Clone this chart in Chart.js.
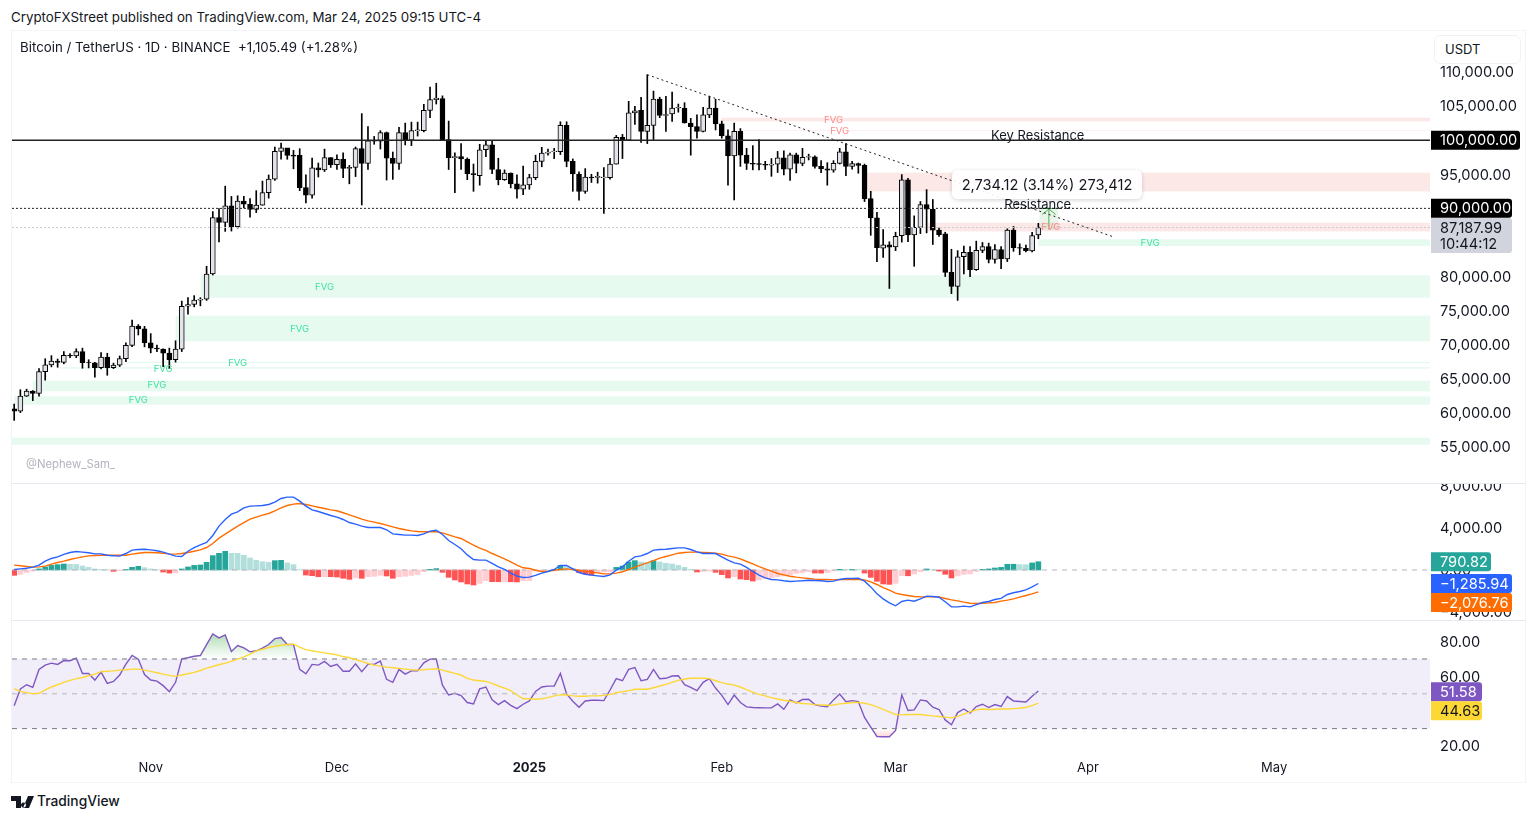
<!DOCTYPE html>
<html>
<head>
<meta charset="utf-8">
<title>BTCUSDT 1D</title>
<script src="https://cdn.jsdelivr.net/npm/chart.js@4"></script>
<style>
  html, body { margin: 0; background: #fff; width: 1536px; height: 821px; overflow: hidden; font-family: Inter, sans-serif; color: #131722; }
  canvas { position: absolute; left: 0; }
  .abs { position: absolute; white-space: nowrap; }
  .rule { position: absolute; left: 11px; width: 1514px; height: 1px; background: #e6e8ef; }
</style>
</head>
<body>
<div class="abs" style="left:11px;top:30px;width:1513px;height:751px;border:1px solid #f3f4f7"></div>
<div class="rule" style="top:483px"></div>
<div class="rule" style="top:620px"></div>

<canvas id="priceChart" width="1536" height="453" style="top:30px"></canvas>
<canvas id="macdChart" width="1536" height="136" style="top:484px"></canvas>
<canvas id="rsiChart" width="1536" height="162" style="top:620px"></canvas>

<div class="abs" style="left:11px;top:9px;font-size:13.3px">CryptoFXStreet published on TradingView.com, Mar 24, 2025 09:15 UTC-4</div>
<div class="abs" style="left:20px;top:39px;font-size:13.3px">Bitcoin / TetherUS · 1D · BINANCE &nbsp;+1,105.49 (+1.28%)</div>
<div class="abs" style="left:26px;top:457px;font-size:11.3px;color:#b2b5be">@Nephew_Sam_</div>
<div class="abs" style="left:1434px;top:35px;width:85px;height:27px;line-height:27px;border:1px solid #f0f1f5;border-radius:6px;background:#fff;font-size:13px;text-indent:10px">USDT</div>
<div class="abs" style="left:952px;top:170px;width:190px;height:29px;line-height:30px;border-radius:6px;background:rgba(255,255,255,.9);box-shadow:0 1px 4px rgba(0,0,0,.18);font-size:14.6px;text-align:center">2,734.12 (3.14%) 273,412</div>
<svg class="abs" style="left:11px;top:796px" width="24" height="12" viewBox="0 0 24 12"><path d="M0 0h10v12H5V5H0zM10 9a2.5 2.5 0 1 0 0-.01zM17 0h6l-5 12h-6z" fill="#131722"/></svg>
<div class="abs" style="left:37px;top:793px;font-size:13.8px;font-weight:500">TradingView</div>

<script>
// index 0 = Oct 10 2024, one candle per day up to Mar 24 2025
const candleOpen = [
  60580,60270,62450,63190,62850,66050,67040,67610,67400,68430,
  68360,69000,67370,67360,66650,68170,66630,67010,67970,69900,
  72730,72330,70290,69500,69370,68770,67800,69360,75640,75900,
  76540,76680,80370,88650,87950,90370,87320,91050,90600,89850,
  90470,92320,94290,98350,98890,97800,97770,93030,91950,95950,
  95640,97460,96400,97200,95850,96000,98770,96600,99920,99870,
  101100,97370,96600,101120,100000,101400,101400,104370,105950,106100,
  100070,97440,97600,97240,95100,94800,98600,99300,95700,94200,
  95190,93600,92800,93450,94500,96900,98100,98300,98300,102170,
  96900,95040,92500,94600,94550,94500,94500,96500,100400,100000,
  104000,104370,101300,102170,106040,103640,103840,104720,104700,102520,
  102000,101300,103700,104700,102400,100650,97700,101300,97800,96600,
  96550,96450,96350,96500,97400,95750,97850,96600,97500,97550,
  96150,95800,95600,96600,98300,96150,96550,96300,91420,88600,
  84150,84650,84350,86000,94200,86100,87200,90550,89900,86800,
  86280,80610,78560,82900,83550,81000,83850,84400,82500,83950,
  82600,86800,84250,84150,83750,86100
];
const candleHigh = [
  61300,63400,63480,63280,66500,67950,68400,67900,69000,68700,
  69400,69500,67800,67400,68850,68750,67300,68350,70270,73620,
  72960,72700,71630,69950,69400,69500,70580,76400,76900,77200,
  76900,81500,89530,89950,93260,91750,91850,91780,91440,92600,
  94000,94900,98970,99590,98780,98500,98750,94900,97360,96650,
  98690,97450,97840,98150,96300,99000,103900,102000,100550,101400,
  101200,98270,101900,102500,102650,102650,105250,107800,108350,106500,
  102800,98150,99500,97400,96500,99400,99950,99900,97350,95650,
  95200,94900,96200,95000,97800,98950,98700,98800,102700,102700,
  97250,95350,95830,95000,95300,95970,97350,100700,100850,105700,
  104950,106300,109600,107200,106300,106420,107070,105300,105500,103200,
  103700,104800,106450,106000,102800,101500,102500,101700,98800,99200,
  100100,96900,97300,98350,98450,98100,98100,98800,97950,97700,
  97000,96700,97000,98800,99500,96900,96650,96500,92500,89400,
  86900,85100,86500,94950,94400,88900,91000,92750,91300,87100,
  86500,84000,83800,84450,84400,85200,85000,84900,84700,84400,
  87000,87350,84800,84600,86500,87800
];
const candleLow = [
  58900,60050,62400,61800,62450,64800,66750,66700,67200,68100,
  68100,66550,66600,65250,66450,65520,66500,66800,67500,69730,
  71430,69680,68800,69000,66800,66500,67450,69000,74500,75560,
  75700,76500,80220,85070,86620,86670,87100,90050,88700,89380,
  90450,91500,94100,97200,97200,95800,92600,90800,91500,94600,
  95400,96000,95700,94500,93600,94660,90500,95700,99400,98700,
  94150,94250,95700,99300,99200,100600,101200,103300,105300,100000,
  95700,92300,95700,94200,92500,93400,97600,95100,93450,94100,
  93000,91500,92000,92800,94200,96100,97800,97300,97900,96100,
  92500,91200,92200,93800,93700,89250,94300,96500,97300,99950,
  102300,99680,99500,100100,103300,101290,102750,104100,102500,97800,
  100300,101200,103300,101500,100300,93400,91230,96150,95700,95650,
  95650,95700,94700,95250,94900,94100,95200,96250,97100,95900,
  95250,93400,95300,96500,94800,95750,95150,91000,86050,82200,
  82800,78250,83800,85050,85100,81500,86300,86400,84700,85900,
  80000,77500,76500,80400,80000,80900,83500,82000,81950,81150,
  82200,83700,83200,83600,83600,85550
];
const candleClose = [
  60270,62450,63190,62850,66050,67040,67610,67400,68430,68360,
  69000,67370,67360,66650,68170,66630,67010,67970,69900,72730,
  72330,70290,69500,69370,68770,67800,69360,75640,75900,76540,
  76680,80370,88650,87950,90370,87320,91050,90600,89850,90470,
  92320,94290,98350,98890,97780,97650,93030,91950,95950,95640,
  97460,96400,97200,95850,96000,98770,96600,99920,99870,101100,
  97370,96600,101120,100000,101400,101500,104370,105950,106180,100070,
  97440,97600,97240,95100,94950,98600,99300,95700,94200,95190,
  93600,92800,93450,94500,96900,98100,98250,98400,102170,96900,
  95040,92500,94600,94450,94700,94600,96500,100400,100000,104000,
  104300,101300,102170,106040,103640,103750,104720,104800,102520,102000,
  101300,103700,104700,102400,100650,97700,101300,97800,96600,96500,
  96450,96350,96500,97400,95750,97850,96600,97500,97600,96150,
  95800,95600,96600,98300,96150,96550,96300,91420,88600,84250,
  84650,84300,85900,94200,86100,87200,90550,89900,86800,86150,
  80610,78560,82900,83550,81000,83850,84400,82500,83950,82600,
  86800,84250,84150,83800,86000,87188
];

const macdLine = [
  50,110,170,270,460,840,1100,1250,1480,1670,
  1760,1700,1640,1540,1540,1410,1350,1320,1570,1890,
  1950,1980,1920,1830,1700,1510,1320,1290,1790,2140,
  2400,2620,3290,4180,4810,5320,5540,5920,6080,6110,
  6140,6240,6460,6810,6940,6940,6560,6080,5730,5570,
  5380,5190,5030,4810,4520,4370,4180,4050,4050,4050,
  3830,3440,3380,3320,3320,3290,3440,3700,3790,3380,
  2810,2430,2020,1440,1000,940,940,620,300,50,
  -300,-590,-710,-680,-520,-300,-140,50,430,430,
  110,-240,-400,-490,-560,-620,-460,-20,300,840,
  1250,1350,1570,1890,1950,1980,2050,2110,2110,1950,
  1730,1570,1570,1570,1250,940,680,560,240,-140,
  -490,-750,-900,-940,-1030,-1100,-1060,-1030,-970,-1000,
  -1030,-1100,-1060,-900,-810,-810,-780,-1060,-1610,-2270,
  -2750,-3130,-3410,-3000,-2870,-2970,-2750,-2490,-2520,-2590,
  -3030,-3510,-3510,-3440,-3510,-3290,-3100,-3000,-2810,-2710,
  -2330,-2170,-2050,-1890,-1610,-1286
];
const macdSignal = [
  460,400,330,270,300,370,560,710,840,1000,
  1130,1250,1350,1380,1410,1410,1410,1410,1410,1510,
  1600,1670,1670,1640,1600,1540,1510,1570,1670,1790,
  1920,2140,2520,3030,3410,3790,4180,4520,4840,5030,
  5220,5380,5640,5920,6140,6270,6330,6240,6110,5980,
  5860,5730,5640,5450,5250,5060,4840,4680,4560,4430,
  4270,4110,3950,3830,3730,3670,3640,3640,3640,3540,
  3350,3160,3000,2680,2370,2080,1860,1570,1320,1060,
  780,460,210,140,-20,-140,-110,-20,50,110,
  50,-20,-110,-210,-270,-370,-370,-300,-170,50,
  270,490,680,900,1130,1290,1440,1600,1670,1700,
  1700,1670,1640,1600,1510,1350,1220,1060,810,590,
  330,110,-110,-330,-460,-590,-680,-750,-810,-870,
  -900,-900,-940,-900,-900,-900,-900,-940,-1130,-1380,
  -1670,-1920,-2210,-2330,-2430,-2520,-2560,-2560,-2560,-2560,
  -2710,-2840,-2940,-3060,-3160,-3190,-3160,-3130,-3100,-2970,
  -2870,-2750,-2590,-2430,-2270,-2077
];
const macdHist = [
  -510,-410,-250,-100,100,290,440,510,570,540,
  530,380,250,100,60,30,-130,-60,60,250,
  350,220,100,30,-190,-290,-280,100,290,440,
  480,730,1370,1590,1780,1590,1580,1400,1140,920,
  790,730,890,920,670,510,30,-480,-540,-640,
  -630,-640,-670,-790,-890,-760,-790,-640,-600,-510,
  -570,-790,-640,-600,-510,-410,-160,60,130,-220,
  -700,-950,-1140,-1330,-1430,-1270,-1020,-1110,-1120,-1110,
  -1120,-1140,-1020,-1010,-100,-60,-30,60,440,320,
  160,-250,-380,-480,-250,-190,-160,250,380,760,
  890,760,700,890,760,640,570,440,250,60,
  -190,-130,-100,-220,-440,-760,-640,-860,-920,-1050,
  -950,-830,-760,-640,-570,-480,-320,-250,-160,-290,
  -300,-250,-100,60,30,60,30,-290,-700,-1080,
  -1330,-1370,-1270,-540,-550,-380,-160,100,30,-100,
  -410,-760,-570,-410,-380,-130,60,100,190,250,
  540,550,510,500,670,791
];

const rsiLine = [
  43.2,52.8,55.2,53.7,64.0,66.5,67.6,66.9,69.1,69.0,
  70.5,61.7,61.7,57.9,62.5,56.0,57.1,60.8,67.0,72.0,
  69.9,61.1,57.9,57.3,54.7,51.2,56.6,70.1,70.7,71.6,
  72.0,78.3,84.4,82.1,83.8,74.3,77.7,76.4,74.1,74.7,
  76.2,78.3,81.7,82.3,78.3,78.3,64.0,61.5,66.9,66.5,
  68.6,65.7,66.9,63.0,63.0,67.2,62.7,66.9,66.9,68.8,
  58.3,56.6,64.0,61.3,63.2,63.2,67.8,69.9,69.9,55.0,
  49.3,50.3,49.0,45.0,44.2,52.8,53.9,46.5,43.8,46.1,
  43.4,41.5,44.0,45.9,51.4,53.9,54.4,54.5,61.7,49.9,
  45.7,42.3,45.9,46.3,46.3,46.1,52.2,58.7,57.5,64.0,
  65.1,57.5,58.3,64.0,58.7,58.9,60.2,60.4,55.2,53.7,
  51.8,56.6,58.7,53.3,49.1,43.8,49.3,45.0,42.5,42.1,
  42.0,41.9,41.9,44.2,41.1,46.5,44.8,46.7,46.9,43.8,
  42.9,42.5,46.5,49.9,45.5,46.1,45.5,36.4,30.9,25.5,
  25.3,25.3,29.0,49.3,40.4,40.8,46.5,45.9,42.3,41.0,
  35.0,32.2,39.2,41.3,38.9,42.7,44.0,42.1,43.8,42.7,
  48.4,45.9,45.6,45.3,48.6,51.58
];
const rsiAverage = [
  53.0,51.4,50.7,50.1,50.3,52.2,53.9,55.2,56.6,57.7,
  58.7,59.4,60.4,61.3,62.7,63.0,63.2,63.6,63.8,64.2,
  64.2,63.6,62.9,62.1,61.3,60.6,60.0,60.8,61.5,62.3,
  63.4,64.8,65.7,66.7,67.6,68.6,69.9,71.2,72.8,74.7,
  75.6,76.6,77.3,77.9,78.3,78.5,76.8,75.4,74.7,74.1,
  73.5,73.0,72.4,71.4,70.7,69.7,68.6,67.4,66.5,65.9,
  65.3,65.0,64.6,64.2,63.8,63.6,63.8,64.2,64.4,63.6,
  62.7,61.7,60.8,58.9,57.9,57.5,57.1,56.0,54.5,53.3,
  51.8,49.3,47.2,47.2,46.9,47.2,47.8,48.8,49.5,49.3,
  48.8,48.6,48.6,48.8,48.8,49.1,49.7,50.7,51.2,51.8,
  52.6,52.6,52.6,53.5,54.5,55.4,56.6,57.7,58.5,58.9,
  58.9,58.9,58.7,57.5,56.4,55.6,55.0,53.9,52.4,51.0,
  49.7,48.8,47.8,47.0,46.3,45.7,45.0,44.4,44.2,43.8,
  43.6,43.4,43.6,44.2,44.6,45.0,45.1,44.6,43.8,42.5,
  41.1,39.6,38.1,37.9,38.1,38.1,38.1,37.7,37.3,37.0,
  36.6,36.2,37.0,38.3,39.6,40.8,41.3,41.0,41.1,41.3,
  41.3,41.5,41.7,42.3,43.2,44.63
];

// date ticks, as candle indexes
const monthIndex = [22, 52, 83, 114, 142, 173, 203];
const monthLabel = ['Nov', 'Dec', '2025', 'Feb', 'Mar', 'Apr', 'May'];
const priceTicks = [110000,105000,100000,95000,90000,85000,80000,75000,70000,65000,60000,55000];
const macdTicks = [8000, 4000, 0, -4000];
const rsiTicks = [80, 60, 40, 20];

// [first candle, top price, bottom price], all run out to the right edge
const greenZones = [
  [30,80170,76890],[26,74260,70500],[18,67510,67290],[7,66710,66490],
  [3,64730,63160],[0,62430,61200],[-3,56370,55340],[165,85450,84480]
];
const redZones = [
  [114,103300,102760],[117,101500,101400],[137,95230,92490],[147,87900,86620]
];
// [candle, price]
const greenFvg = [[50,78514],[46,72353],[36,67366],[24,66486],[23,64000],[20,61800],[183,84966]];
const redFvg = [[132,103007],[133,101393],[156,93767],[167,87313]];
const trendX = [102, 177];
const trendY = [109600, 85850];

// x runs in candle indexes, a little over 6.2px a day, from px 12 to px 1430
const xMin = -0.35, xMax = 228.1;
const AXIS_W = 106;
const FONT = 'Inter, sans-serif';
const AXIS_SIZE = 14.6;

function money(v) {
  return v.toLocaleString('en-US', { minimumFractionDigits: 2, maximumFractionDigits: 2 }).replace('-', '\u2212');
}
function series(values) {
  return values.map((y, i) => ({ x: i, y }));
}
function level(value, color, width, dash) {
  return {
    type: 'line', order: 0, data: [{ x: xMin, y: value }, { x: xMax, y: value }],
    borderColor: color, borderWidth: width, borderDash: dash || [], pointRadius: 0
  };
}
function stroke(points, color, width, dash) {
  return {
    type: 'line', order: 0, data: points,
    borderColor: color, borderWidth: width, borderDash: dash || [], pointRadius: 0
  };
}

// zones go under the datasets, notes and price tags on top of everything
function overlay(cfg) {
  return {
    id: 'overlay',
    beforeDatasetsDraw(chart) {
      const { ctx, chartArea, scales: { x, y } } = chart;
      ctx.save();
      (cfg.zones || []).forEach(([rows, color]) => {
        ctx.fillStyle = color;
        rows.forEach(([start, top, bottom, end]) => {
          const x0 = Math.max(x.getPixelForValue(start), chartArea.left);
          const x1 = end === undefined ? chartArea.right : x.getPixelForValue(end);
          ctx.fillRect(x0, y.getPixelForValue(top), x1 - x0, y.getPixelForValue(bottom) - y.getPixelForValue(top));
        });
      });
      ctx.restore();
    },
    afterDraw(chart) {
      const { ctx, chartArea, scales: { x, y } } = chart;
      ctx.save();
      ctx.textBaseline = 'middle';
      (cfg.notes || []).forEach(([rows, color, font, text]) => {
        ctx.fillStyle = color;
        ctx.font = font;
        ctx.textAlign = 'center';
        rows.forEach(([i, p, t]) => ctx.fillText(t || text, x.getPixelForValue(i), y.getPixelForValue(p)));
      });
      ctx.font = AXIS_SIZE + 'px ' + FONT;
      ctx.textAlign = 'left';
      (cfg.tags || []).forEach(t => {
        const mid = y.getPixelForValue(t.value) + (t.shift || 0);
        const h = 19 + (t.lines.length - 1) * 16;
        ctx.fillStyle = t.bg;
        ctx.beginPath();
        ctx.roundRect(chartArea.right + 1, mid - 9.5, t.width, h, [0, 3, 3, 0]);
        ctx.fill();
        ctx.fillStyle = t.fg;
        t.lines.forEach((l, n) => ctx.fillText(l, chartArea.right + 10, mid + 0.7 + n * 16));
      });
      ctx.restore();
    }
  };
}

function paneOptions(yMin, yMax, ticks, showDates) {
  return {
    responsive: false,
    animation: false,
    layout: { padding: { left: 12, right: 0, top: 0, bottom: 0 } },
    plugins: { legend: { display: false }, tooltip: { enabled: false } },
    events: [],
    scales: {
      x: {
        type: 'linear', offset: false, min: xMin, max: xMax, display: showDates,
        grid: { display: false, drawTicks: false }, border: { display: false },
        afterBuildTicks(s) { s.ticks = monthIndex.map(value => ({ value })); },
        afterFit(s) { s.height = showDates ? 30 : 0; s.paddingLeft = s.paddingRight = 0; },
        ticks: {
          autoSkip: false, maxRotation: 0, padding: 8, color: '#131722',
          font: c => ({ family: FONT, size: 13, weight: c.tick && c.tick.value === 83 ? '700' : '400' }),
          callback: v => monthLabel[monthIndex.indexOf(v)]
        }
      },
      y: {
        position: 'right', min: yMin, max: yMax,
        grid: { display: false, drawTicks: false }, border: { display: false },
        afterBuildTicks(s) { s.ticks = ticks.map(value => ({ value })); },
        afterFit(s) { s.width = AXIS_W; s.paddingTop = s.paddingBottom = 0; },
        ticks: {
          autoSkip: false, padding: 10, crossAlign: 'near', color: '#131722', labelOffset: 1,
          font: { family: FONT, size: AXIS_SIZE }, callback: money
        }
      }
    }
  };
}

const CANDLE_UP = '#e2e4ea';
const CANDLE_DOWN = '#000000';

new Chart(document.getElementById('priceChart'), {
  type: 'bar',
  data: {
    datasets: [
      stroke(trendX.map((x, i) => ({ x, y: trendY[i] })), '#222', 1, [2, 3]),
      level(100000, '#222', 1.5),
      level(90000, '#222', 1, [2, 2]),
      level(87187.99, '#c9ccd4', 1, [2, 2]),
      stroke([{ x: 166.7, y: 86900 }, { x: 166.7, y: 89900 }], '#4caf50', 1),
      stroke([{ x: 165.6, y: 89100 }, { x: 166.7, y: 89900 }, { x: 167.8, y: 89100 }], '#4caf50', 1),
      stroke([{ x: 165, y: 90000 }, { x: 168.4, y: 90000 }], '#4caf50', 1),
      {
        order: 1, grouped: false, barThickness: 5, borderWidth: 1, borderSkipped: false,
        borderColor: '#000', data: candleOpen.map((o, i) => ({ x: i, y: [o, candleClose[i]] })),
        backgroundColor: candleOpen.map((o, i) => candleClose[i] >= o ? CANDLE_UP : CANDLE_DOWN)
      },
      {
        order: 2, grouped: false, barThickness: 1, borderWidth: 0, backgroundColor: '#000',
        data: candleLow.map((l, i) => ({ x: i, y: [l, candleHigh[i]] }))
      }
    ]
  },
  options: paneOptions(49720, 116160, priceTicks, false),
  plugins: [overlay({
    zones: [
      [greenZones, '#e6faf0'],
      [redZones, '#fde8e8'],
      [[[165.2, 90000, 86900, 168.2]], 'rgba(76,175,80,.12)']
    ],
    notes: [
      [greenFvg, '#3fe3a0', '9.5px ' + FONT, 'FVG'],
      [redFvg, '#ff8a8a', '9.5px ' + FONT, 'FVG'],
      [[[164.9, 100650, 'Key Resistance'], [164.9, 90480, 'Resistance']], '#131722', '13px ' + FONT]
    ],
    tags: [
      { value: 100000, width: 89, lines: ['100,000.00'], bg: '#000', fg: '#fff' },
      { value: 87187.99, width: 81, lines: ['87,187.99', '10:44:12'], bg: '#d1d4dc', fg: '#131722' },
      { value: 90000, width: 81, lines: ['90,000.00'], bg: '#000', fg: '#fff' }
    ]
  })]
});

new Chart(document.getElementById('macdChart'), {
  type: 'bar',
  data: {
    datasets: [
      { type: 'line', order: 0, data: series(macdLine), borderColor: '#2962ff', borderWidth: 1.4, pointRadius: 0 },
      { type: 'line', order: 0, data: series(macdSignal), borderColor: '#ff6d00', borderWidth: 1.4, pointRadius: 0 },
      level(0, '#b2b5be', 1, [5, 5]),
      {
        order: 1, grouped: false, barThickness: 5, borderWidth: 0,
        data: series(macdHist),
        backgroundColor: macdHist.map((h, i) => {
          const prev = i ? macdHist[i - 1] : 0;
          if (h >= 0) return h >= prev ? '#26a69a' : '#b2dfdb';
          return h <= prev ? '#ff5252' : '#ffcdd2';
        })
      }
    ]
  },
  options: paneOptions(-4762, 8190, macdTicks, false),
  plugins: [overlay({
    tags: [
      { value: 790.82, width: 60, lines: ['790.82'], bg: '#26a69a', fg: '#fff' },
      { value: -1285.94, width: 81, lines: ['\u22121,285.94'], bg: '#2962ff', fg: '#fff' },
      { value: -2076.76, shift: 10.7, width: 81, lines: ['\u22122,076.76'], bg: '#ff6d00', fg: '#fff' }
    ]
  })]
});

const rsiChart = new Chart(document.getElementById('rsiChart'), {
  type: 'line',
  data: {
    datasets: [
      { order: 0, data: series(rsiAverage), borderColor: '#fdd835', borderWidth: 1.4, pointRadius: 0 },
      { order: 1, data: series(rsiLine), borderColor: '#7e57c2', borderWidth: 1.4, pointRadius: 0,
        fill: { target: { value: 70 }, above: 'transparent', below: 'transparent' } },
      { order: 2, data: series(rsiLine), borderWidth: 0, pointRadius: 0,
        fill: { target: { value: 30 }, above: 'transparent', below: 'transparent' } },
      level(70, '#787b86', 1, [5, 5]),
      level(50, '#b2b5be', 1, [5, 5]),
      level(30, '#787b86', 1, [5, 5])
    ]
  },
  options: paneOptions(16.57, 92, rsiTicks, true),
  plugins: [overlay({
    zones: [[[[xMin, 70, 30]], '#f1eef9']],
    tags: [
      { value: 51.58, shift: 0.7, width: 51, lines: ['51.58'], bg: '#7e57c2', fg: '#fff' },
      { value: 44.63, shift: 7.5, width: 51, lines: ['44.63'], bg: '#fdd835', fg: '#131722' }
    ]
  })]
});

// overbought and oversold shading fades toward the band
const rsiY = rsiChart.scales.y;
const upFade = rsiChart.ctx.createLinearGradient(0, rsiY.getPixelForValue(85), 0, rsiY.getPixelForValue(70));
upFade.addColorStop(0, 'rgba(76,175,80,.45)');
upFade.addColorStop(1, 'rgba(76,175,80,0)');
const downFade = rsiChart.ctx.createLinearGradient(0, rsiY.getPixelForValue(30), 0, rsiY.getPixelForValue(24));
downFade.addColorStop(0, 'rgba(255,82,82,0)');
downFade.addColorStop(1, 'rgba(255,82,82,.3)');
rsiChart.data.datasets[1].fill.above = upFade;
rsiChart.data.datasets[2].fill.below = downFade;
rsiChart.update();
</script>
</body>
</html>
